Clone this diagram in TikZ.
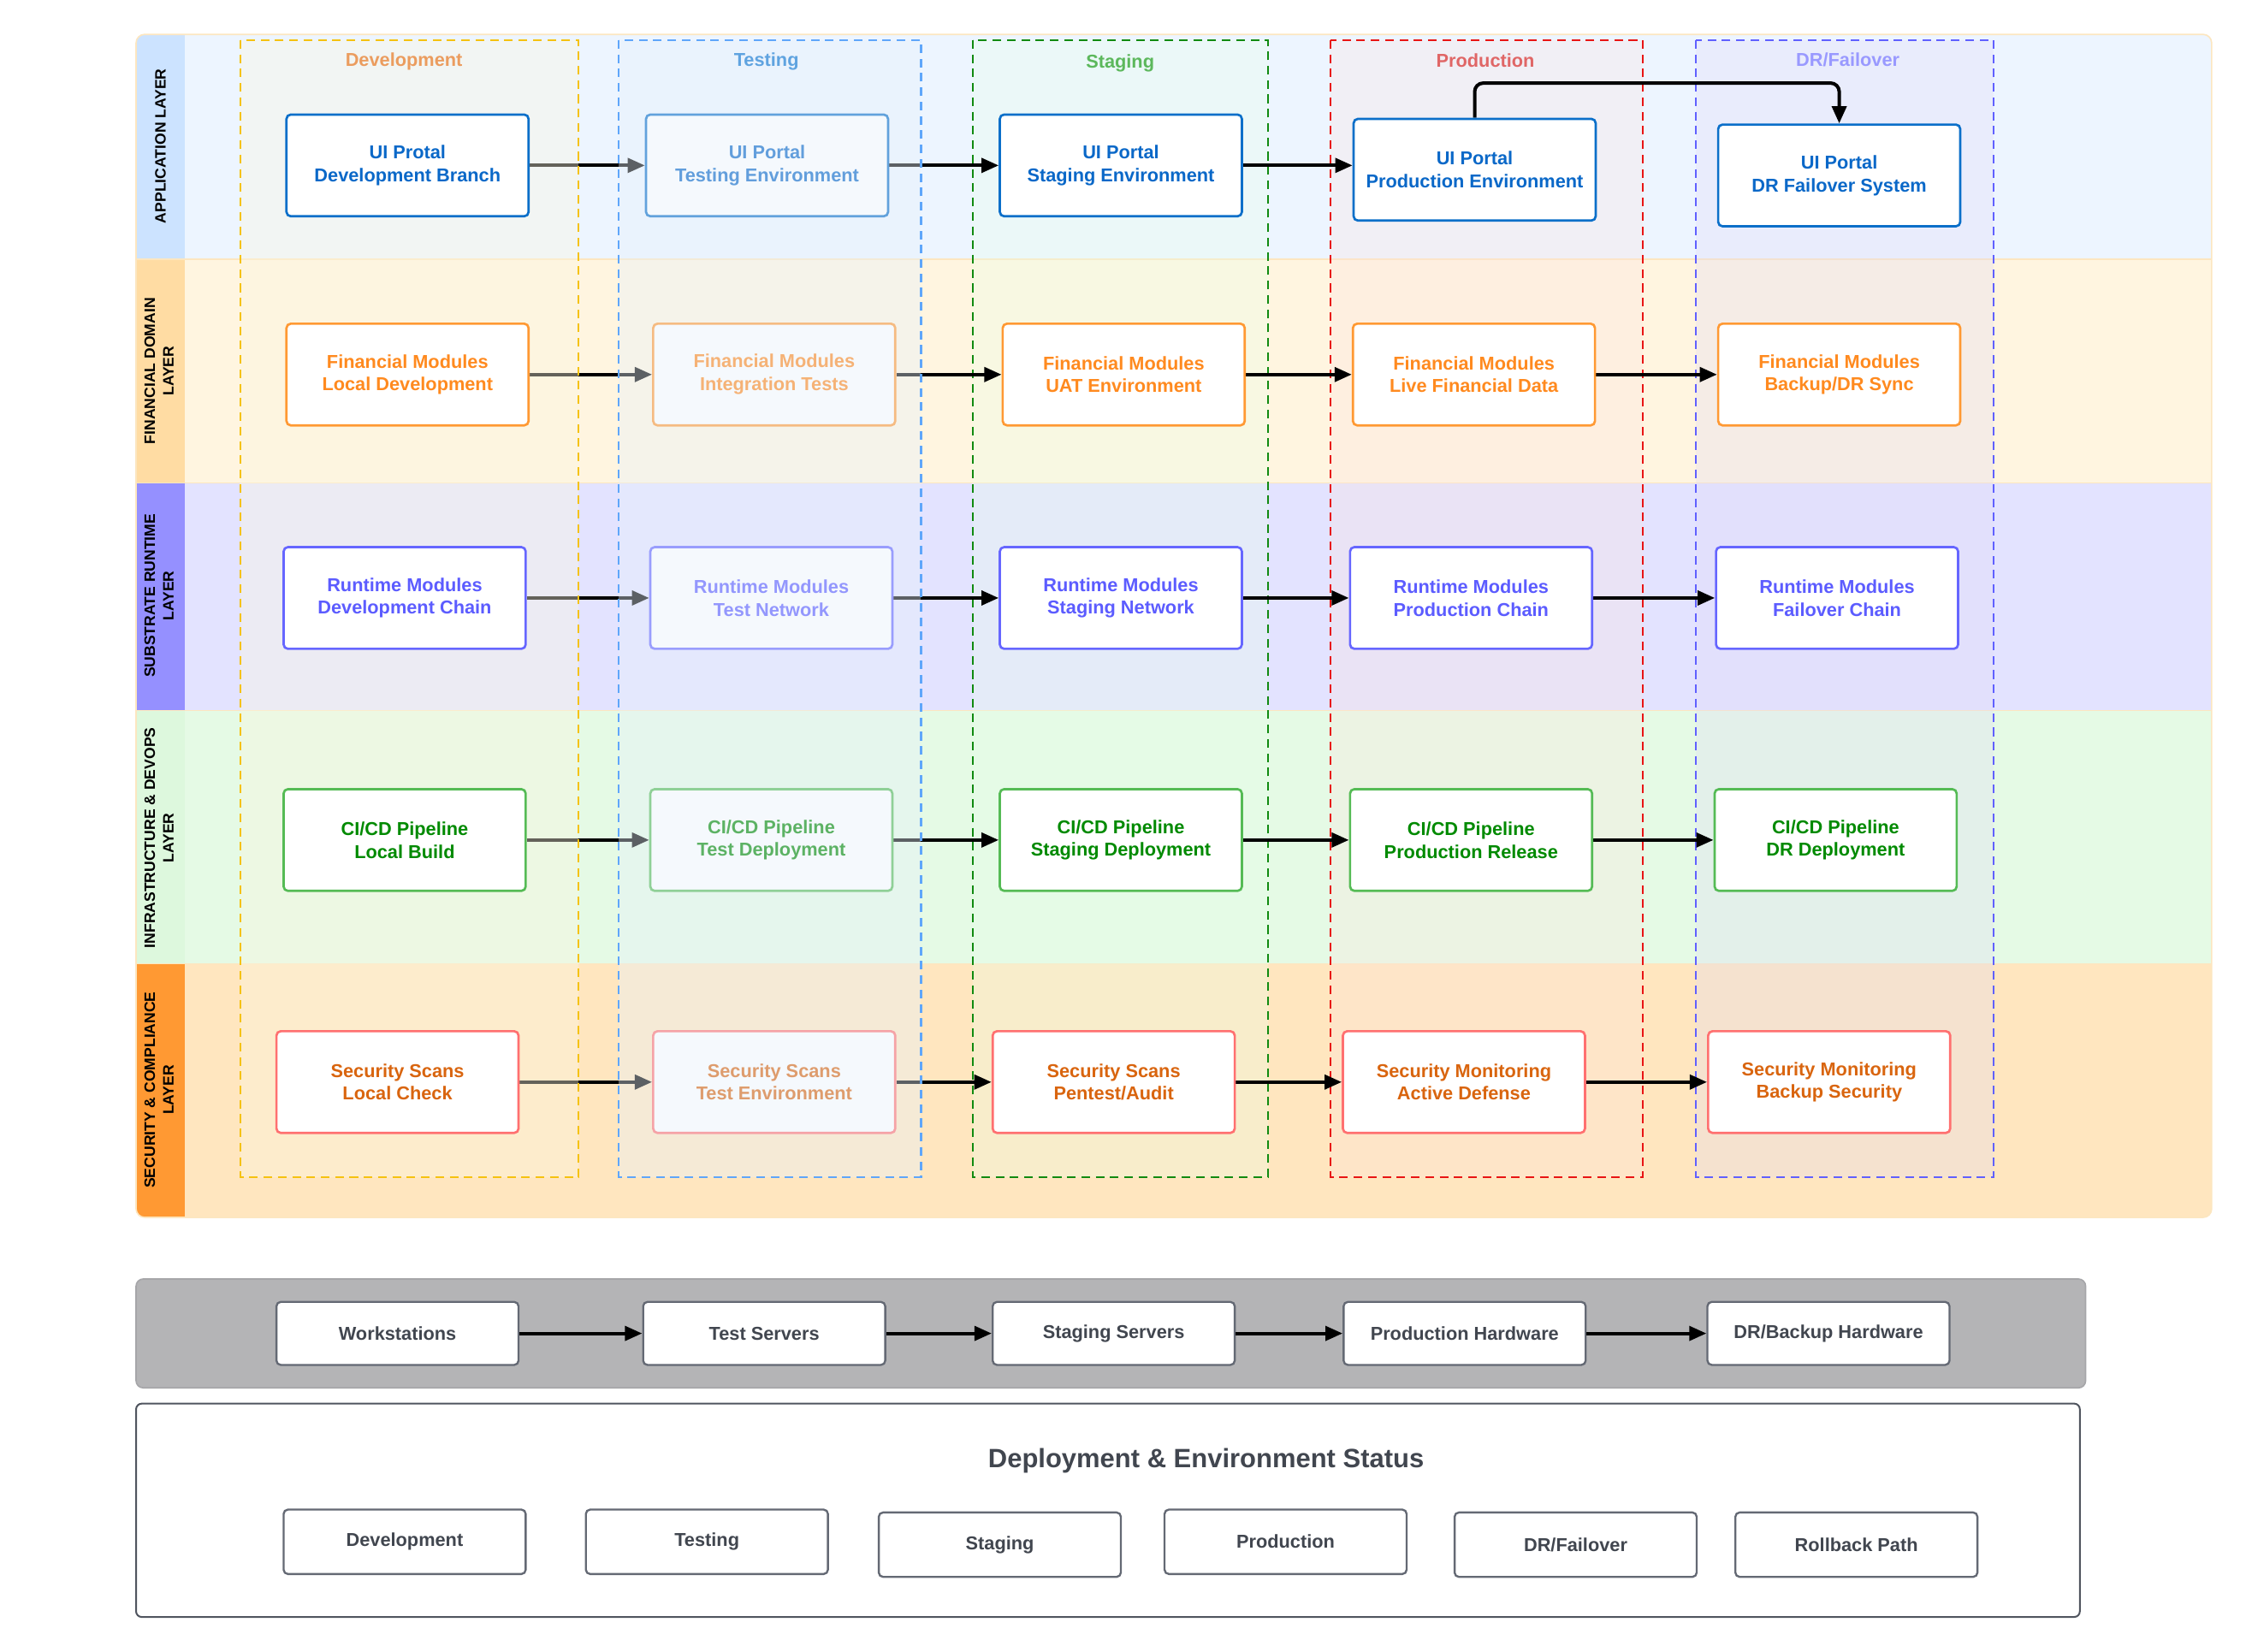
\documentclass[tikz,border=0pt]{standalone}
\usepackage{fontspec}
\setmainfont{Liberation Sans}
\usetikzlibrary{arrows.meta,calc}
\pgfdeclarelayer{bands}
\pgfdeclarelayer{lowcols}
\pgfdeclarelayer{arrows}
\pgfdeclarelayer{tboxes}
\pgfdeclarelayer{highcols}
\pgfsetlayers{bands,lowcols,arrows,tboxes,highcols,main}

\definecolor{appBand}{HTML}{EDF5FF}
\definecolor{finBand}{HTML}{FFF5E0}
\definecolor{subBand}{HTML}{E3E3FF}
\definecolor{infBand}{HTML}{E5FAE5}
\definecolor{secBand}{HTML}{FFE6BF}
\definecolor{appStrip}{HTML}{CCE3FF}
\definecolor{finStrip}{HTML}{FFDCA3}
\definecolor{subStrip}{HTML}{9590FF}
\definecolor{infStrip}{HTML}{DDF8DD}
\definecolor{secStrip}{HTML}{FF9933}
\definecolor{bandLine}{HTML}{FCE6C0}

\definecolor{appLine}{HTML}{0B6FC9}
\definecolor{appText}{HTML}{0A68C8}
\definecolor{finLine}{HTML}{FF9933}
\definecolor{finText}{HTML}{FF8A1F}
\definecolor{subLine}{HTML}{6666FF}
\definecolor{subText}{HTML}{5C5CFF}
\definecolor{infLine}{HTML}{55BB55}
\definecolor{infText}{HTML}{008A00}
\definecolor{secLine}{HTML}{FF7070}
\definecolor{secText}{HTML}{D9650F}

\definecolor{devDash}{HTML}{F5C210}
\definecolor{tstDash}{HTML}{5FA6FA}
\definecolor{stgDash}{HTML}{108A10}
\definecolor{prdDash}{HTML}{E81414}
\definecolor{drDash}{HTML}{6060FF}
\definecolor{devTint}{HTML}{FAF7E1}
\definecolor{tstTint}{HTML}{E6F0FA}
\definecolor{stgTint}{HTML}{E8FFE9}
\definecolor{prdTint}{HTML}{FDE4E0}
\definecolor{drTint}{HTML}{E0DAF6}
\definecolor{devTitle}{HTML}{EB9C5E}
\definecolor{tstTitle}{HTML}{5FA3E0}
\definecolor{stgTitle}{HTML}{5CB85C}
\definecolor{prdTitle}{HTML}{E06666}
\definecolor{drTitle}{HTML}{9999FF}

\definecolor{hwBand}{HTML}{B4B4B6}
\definecolor{hwBandLine}{HTML}{A6A6A9}
\definecolor{hwLine}{HTML}{646974}
\definecolor{hwText}{HTML}{41464F}
\definecolor{panelLine}{HTML}{50555F}

\tikzset{
  lbl/.style={font=\bfseries\fontsize{13}{16}\selectfont, align=center},
  box/.style={lbl, draw, line width=1.6pt, rounded corners=3pt, fill=white,
    minimum width=169pt, minimum height=71pt, inner sep=0pt},
  appbox/.style={box, draw=appLine, text=appText},
  finbox/.style={box, draw=finLine, text=finText},
  subbox/.style={box, draw=subLine, text=subText},
  infbox/.style={box, draw=infLine, text=infText},
  secbox/.style={box, draw=secLine, text=secText},
  hwbox/.style={lbl, draw=hwLine, line width=1.4pt, rounded corners=3pt, fill=white,
    minimum width=169pt, minimum height=44pt, inner sep=0pt, text=hwText},
  stbox/.style={hwbox, minimum height=45pt},
  flow/.style={line width=2.4pt, -{Triangle[length=12pt,width=10pt]}},
  colbox/.style={line width=1.3pt, dash pattern=on 6pt off 4pt},
  lanelabel/.style={rotate=90, font=\bfseries\fontsize{10.5}{13}\selectfont, align=center, text=black},
  coltitle/.style={font=\bfseries\fontsize{13}{16}\selectfont},
}

\begin{document}
\begin{tikzpicture}[x=1pt,y=-1pt]
\useasboundingbox (0,0) rectangle (1568,1153);

% ---------------- bands ----------------
\begin{pgfonlayer}{bands}
\begin{scope}
  \clip[rounded corners=6pt] (95,24) rectangle (1544,850);
  \fill[appBand] (95,24) rectangle (1544,181);
  \fill[finBand] (95,181) rectangle (1544,337);
  \fill[subBand] (95,337) rectangle (1544,496);
  \fill[infBand] (95,496) rectangle (1544,673);
  \fill[secBand] (95,673) rectangle (1544,850);
  \fill[appStrip] (95,24) rectangle (129,181);
  \fill[finStrip] (95,181) rectangle (129,337);
  \fill[subStrip] (95,337) rectangle (129,496);
  \fill[infStrip] (95,496) rectangle (129,673);
  \fill[secStrip] (95,673) rectangle (129,850);
  \draw[bandLine, line width=0.8pt] (95,181) -- (1544,181) (95,337) -- (1544,337)
    (95,496) -- (1544,496) (95,673) -- (1544,673);
\end{scope}
\draw[bandLine, line width=1pt, rounded corners=6pt] (95,24) rectangle (1544,850);
\end{pgfonlayer}

\node[lanelabel] (L1) at (112,102) {APPLICATION LAYER};
\node[lanelabel] (L2) at (111,259) {FINANCIAL DOMAIN\\LAYER};
\node[lanelabel] (L3) at (111,416) {SUBSTRATE RUNTIME\\LAYER};
\node[lanelabel] (L4) at (111,585) {INFRASTRUCTURE \& DEVOPS\\LAYER};
\node[lanelabel] (L5) at (111,761) {SECURITY \& COMPLIANCE\\LAYER};

% ---------------- lower environment columns ----------------
\begin{pgfonlayer}{lowcols}
\draw[colbox, draw=stgDash, fill=stgTint, fill opacity=0.3] (679,28) rectangle (885,822);
\draw[colbox, draw=prdDash, fill=prdTint, fill opacity=0.3] (929,28) rectangle (1147,822);
\draw[colbox, draw=drDash, fill=drTint, fill opacity=0.3] (1184,28) rectangle (1392,822);
\end{pgfonlayer}

% ---------------- upper environment columns ----------------
\begin{pgfonlayer}{highcols}
\draw[colbox, draw=devDash, fill=devTint, fill opacity=0.4] (168,28) rectangle (404,822);
\draw[colbox, draw=tstDash, fill=tstTint, fill opacity=0.4] (432,28) rectangle (643,822);
\end{pgfonlayer}

\node[coltitle, text=devTitle] (T1) at (282,43) {Development};
\node[coltitle, text=tstTitle] (T2) at (535,43) {Testing};
\node[coltitle, text=stgTitle] (T3) at (782,44) {Staging};
\node[coltitle, text=prdTitle] (T4) at (1037,42) {Production};
\node[coltitle, text=drTitle] (T5) at (1290,42) {DR/Failover};

% ---------------- boxes ----------------
% development column
\node[appbox] (a1) at (284.5,115.5) {UI Protal\\Development Branch};
\node[finbox] (f1) at (284.5,261.5) {Financial Modules\\Local Development};
\node[subbox] (s1) at (282.5,417.5) {Runtime Modules\\Development Chain};
\node[infbox] (i1) at (282.5,586.5) {CI/CD Pipeline\\Local Build};
\node[secbox] (x1) at (277.5,755.5) {Security Scans\\Local Check};

% testing column (under its tint)
\begin{pgfonlayer}{tboxes}
\node[appbox] (a2) at (535.5,115.5) {UI Portal\\Testing Environment};
\node[finbox] (f2) at (540.5,261.5) {Financial Modules\\Integration Tests};
\node[subbox] (s2) at (538.5,417.5) {Runtime Modules\\Test Network};
\node[infbox] (i2) at (538.5,586.5) {CI/CD Pipeline\\Test Deployment};
\node[secbox] (x2) at (540.5,755.5) {Security Scans\\Test Environment};
\end{pgfonlayer}

% staging column
\node[appbox] (a3) at (782.5,115.5) {UI Portal\\Staging Environment};
\node[finbox] (f3) at (784.5,261.5) {Financial Modules\\UAT Environment};
\node[subbox] (s3) at (782.5,417.5) {Runtime Modules\\Staging Network};
\node[infbox] (i3) at (782.5,586.5) {CI/CD Pipeline\\Staging Deployment};
\node[secbox] (x3) at (777.5,755.5) {Security Scans\\Pentest/Audit};

% production column
\node[appbox] (a4) at (1029.5,118.5) {UI Portal\\Production Environment};
\node[finbox] (f4) at (1029,261.5) {Financial Modules\\Live Financial Data};
\node[subbox] (s4) at (1027,417.5) {Runtime Modules\\Production Chain};
\node[infbox] (i4) at (1027,586.5) {CI/CD Pipeline\\Production Release};
\node[secbox] (x4) at (1022,755.5) {Security Monitoring\\Active Defense};

% DR column
\node[appbox] (a5) at (1284,122.5) {UI Portal\\DR Failover System};
\node[finbox] (f5) at (1284,261.5) {Financial Modules\\Backup/DR Sync};
\node[subbox] (s5) at (1282.5,417.5) {Runtime Modules\\Failover Chain};
\node[infbox] (i5) at (1281.5,586.5) {CI/CD Pipeline\\DR Deployment};
\node[secbox] (x5) at (1277,755.5) {Security Monitoring\\Backup Security};

\coordinate (topline) at (0,58);

% ---------------- arrows ----------------
\begin{pgfonlayer}{arrows}
\foreach \r in {a,f,s,i,x}{
  \draw[flow] (\r1.east) -- (\r1.east -| \r2.west);
  \draw[flow] (\r2.east) -- (\r2.east -| \r3.west);
  \draw[flow] (\r3.east) -- (\r3.east -| \r4.west);
}
\foreach \r in {f,s,i,x}{
  \draw[flow] (\r4.east) -- (\r4.east -| \r5.west);
}
\draw[flow, rounded corners=6pt] (a4.north) -- (a4.north |- topline) -- (a5.north |- topline) -- (a5.north);
\end{pgfonlayer}

% ---------------- hardware band ----------------
\draw[hwBandLine, fill=hwBand, line width=1pt, rounded corners=5pt] (95,893) rectangle (1456,969);
\node[hwbox] (h1) at (277.5,931) {Workstations};
\node[hwbox] (h2) at (533.5,931) {Test Servers};
\node[hwbox] (h3) at (777.5,931) {Staging Servers};
\node[hwbox] (h4) at (1022.5,931) {Production Hardware};
\node[hwbox] (h5) at (1276.5,931) {DR/Backup Hardware};
\draw[flow] (h1.east) -- (h2.west);
\draw[flow] (h2.east) -- (h3.west);
\draw[flow] (h3.east) -- (h4.west);
\draw[flow] (h4.east) -- (h5.west);

% ---------------- status panel ----------------
\draw[panelLine, fill=white, line width=1.2pt, rounded corners=4pt] (95,980) rectangle (1452,1129);
\node[font=\bfseries\fontsize{18.5}{22}\selectfont, text=hwText] (ptitle) at (842,1020) {Deployment \& Environment Status};
\node[stbox] (st1) at (282.5,1076.5) {Development};
\node[stbox] (st2) at (493.5,1076.5) {Testing};
\node[stbox] (st3) at (698,1078.5) {Staging};
\node[stbox] (st4) at (897.5,1076.5) {Production};
\node[stbox] (st5) at (1100,1078.5) {DR/Failover};
\node[stbox] (st6) at (1296,1078.5) {Rollback Path};
\end{tikzpicture}
\end{document}
